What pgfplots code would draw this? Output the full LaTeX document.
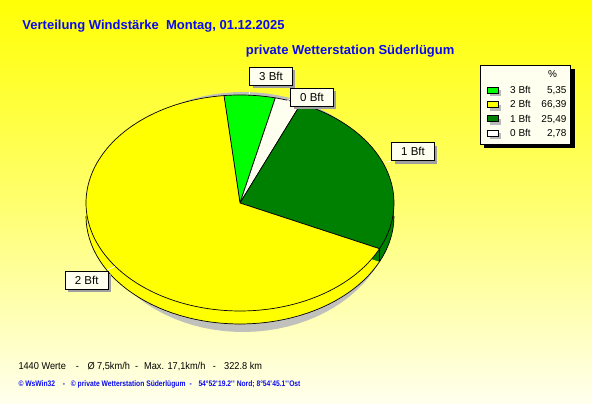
\documentclass[border=0pt]{standalone}
\usepackage{fontspec}
\setmainfont{Liberation Sans}
\newfontfamily\footfont{Liberation Sans}[FakeStretch=0.84]
\newfontfamily\sumfont{Liberation Sans}[FakeStretch=0.92]
\usepackage{pgfplots}
\pgfplotsset{compat=1.18}
\usetikzlibrary{shadows}

\definecolor{bgtop}{RGB}{255,255,5}
\definecolor{bgmid}{RGB}{255,255,110}
\definecolor{bgbot}{RGB}{255,255,238}
\definecolor{cream}{RGB}{255,255,240}
\definecolor{bft3}{RGB}{0,255,0}
\definecolor{bft2}{RGB}{255,255,0}
\definecolor{bft1}{RGB}{0,128,0}
\definecolor{bft0}{RGB}{255,255,240}
\definecolor{titleblue}{RGB}{10,10,240}
\definecolor{pieshadow}{RGB}{192,192,188}

% share of each wind force in percent (order as drawn, clockwise from top)
\newcommand\pctThree{5.35}
\newcommand\pctZero{2.78}
\newcommand\pctOne{25.49}
\newcommand\pctTwo{66.39}

% pie geometry in pixel units (1 unit = 1pt)
\def\cx{240}\def\cy{-203}\def\cyb{-216}\def\rx{154}\def\ry{108}

% slice boundaries, clockwise from 96 degrees
\pgfmathsetmacro\angS{96}
\pgfmathsetmacro\angA{\angS-3.6*\pctThree}
\pgfmathsetmacro\angB{\angA-3.6*\pctZero}
\pgfmathsetmacro\angC{\angB-3.6*\pctOne}
\pgfmathsetmacro\angD{\angC-3.6*\pctTwo}

\begin{document}
\begin{tikzpicture}[
    lbl/.style={draw=black, fill=cream, line width=0.6pt, minimum width=42.5pt,
      minimum height=18pt, inner sep=0pt, font=\fontsize{11.5}{13}\selectfont,
      drop shadow={shadow xshift=3pt, shadow yshift=-3pt, fill=gray!75, opacity=1}},
]
\shade[top color=bgtop, bottom color=bgbot, middle color=bgmid] (0,0) rectangle (592pt,404pt);
\begin{axis}[
    scale only axis,
    width=592pt, height=404pt,
    xmin=0, xmax=592, ymin=-404, ymax=0,
    hide axis, clip=false, no markers,
]
% shadow under the pie
\addplot[fill=pieshadow, draw=none, domain=0:360, samples=90, variable=\t]
  ({243+150*cos(\t)}, {-212+120*sin(\t)}) -- cycle;

% side wall (lower copy of the front slices)
\addplot[fill=bft2, draw=none, domain=\angD:\angC, samples=80, variable=\t]
  ({\cx+\rx*cos(\t)}, {\cyb+\ry*sin(\t)}) -- (\cx,\cyb) -- cycle;
\addplot[fill=bft1, draw=none, domain=\angC:\angB, samples=40, variable=\t]
  ({\cx+\rx*cos(\t)}, {\cyb+\ry*sin(\t)}) -- (\cx,\cyb) -- cycle;
\addplot[black, line width=0.7pt, domain=-180:0, samples=60, variable=\t]
  ({\cx+\rx*cos(\t)}, {\cyb+\ry*sin(\t)});
\addplot[black, line width=0.7pt, domain=0:1, samples=2, variable=\t]
  ({\cx+\rx*cos(\angC)}, {\cy+\ry*sin(\angC)-13*\t});

% top face
\addplot[fill=bft3, draw=black, line width=0.7pt, line join=round, domain=\angA:\angS, samples=20, variable=\t]
  ({\cx+\rx*cos(\t)}, {\cy+\ry*sin(\t)}) -- (\cx,\cy) -- cycle;
\addplot[fill=bft0, draw=black, line width=0.7pt, line join=round, domain=\angB:\angA, samples=12, variable=\t]
  ({\cx+\rx*cos(\t)}, {\cy+\ry*sin(\t)}) -- (\cx,\cy) -- cycle;
\addplot[fill=bft1, draw=black, line width=0.7pt, line join=round, domain=\angC:\angB, samples=50, variable=\t]
  ({\cx+\rx*cos(\t)}, {\cy+\ry*sin(\t)}) -- (\cx,\cy) -- cycle;
\addplot[fill=bft2, draw=black, line width=0.7pt, line join=round, domain=\angD:\angC, samples=120, variable=\t]
  ({\cx+\rx*cos(\t)}, {\cy+\ry*sin(\t)}) -- (\cx,\cy) -- cycle;

% leader lines and slice labels
\draw[white, line width=0.7pt] (249.5,-85) -- (249.5,-94);
\draw[white, line width=0.7pt] (287,-101) -- (291,-99);
\draw[white, line width=0.7pt] (385,-162.3) -- (392,-161);
\draw[white, line width=0.7pt] (107,-270) -- (115,-266.5);
\node[lbl] at (271,-76) {3 Bft};
\node[lbl] at (312,-97.5) {0 Bft};
\node[lbl] at (413,-151.7) {1 Bft};
\node[lbl] at (86.7,-280) {2 Bft};

% legend
\fill[black] (484,-69) rectangle (574.7,-148.3);
\filldraw[fill=cream, draw=black, line width=0.6pt] (480,-65) rectangle (570.7,-144.3);
\node[anchor=base, font=\fontsize{10}{12}\selectfont] at (552.5,-78) {\%};
\fill[gray!55] (490.3,-96) rectangle (501.3,-90);
\fill[gray!55] (490.3,-110.7) rectangle (501.3,-104.7);
\fill[gray!55] (490.3,-124.7) rectangle (501.3,-118.7);
\fill[gray!55] (490.3,-139) rectangle (501.3,-133);
\filldraw[fill=bft3, draw=black, line width=0.6pt] (487.3,-93) rectangle (498.3,-87);
\filldraw[fill=bft2, draw=black, line width=0.6pt] (487.3,-107.7) rectangle (498.3,-101.7);
\filldraw[fill=bft1, draw=black, line width=0.6pt] (487.3,-121.7) rectangle (498.3,-115.7);
\filldraw[fill=white, draw=black, line width=0.6pt] (487.3,-136) rectangle (498.3,-130);
\begin{scope}[every node/.style={font=\fontsize{10}{12}\selectfont, inner sep=0pt}]
\node[anchor=base west] at (510,-93.3) {3 Bft};
\node[anchor=base east] at (566.7,-93.3) {5,35};
\node[anchor=base west] at (510,-108) {2 Bft};
\node[anchor=base east] at (566.7,-108) {66,39};
\node[anchor=base west] at (510,-122.3) {1 Bft};
\node[anchor=base east] at (566.7,-122.3) {25,49};
\node[anchor=base west] at (510,-136.7) {0 Bft};
\node[anchor=base east] at (566.7,-136.7) {2,78};
\end{scope}

% titles
\node[anchor=base west, inner sep=0pt, text=titleblue, font=\fontsize{13}{15}\selectfont\bfseries]
  at (22.3,-29.3) {Verteilung Windstärke\ \ Montag, 01.12.2025};
\node[anchor=base west, inner sep=0pt, text=titleblue, font=\fontsize{13}{15}\selectfont\bfseries]
  at (245.7,-54.3) {private Wetterstation Süderlügum};

% summary line
\begin{scope}[every node/.style={font=\sumfont\fontsize{10}{12}\selectfont, inner sep=0pt}]
\node[anchor=base west] at (18.3,-370) {1440 Werte};
\node[anchor=base] at (77.3,-370) {-};
\node[anchor=base west] at (87.3,-370) {Ø 7,5km/h};
\node[anchor=base] at (136.7,-370) {-};
\node[anchor=base west] at (144,-370) {Max. 17,1km/h};
\node[anchor=base] at (214.3,-370) {-};
\node[anchor=base west] at (224,-370) {322.8 km};
\end{scope}

% footer
\begin{scope}[every node/.style={font=\footfont\bfseries\fontsize{8}{9}\selectfont, text=titleblue, inner sep=0pt}]
\node[anchor=base west] at (18.3,-386.3) {© WsWin32};
\node[anchor=base] at (64,-386.3) {-};
\node[anchor=base west] at (70.7,-386.3) {© private Wetterstation Süderlügum};
\node[anchor=base] at (190.7,-386.3) {-};
\node[anchor=base west] at (198.3,-386.3) {54°52\textquotesingle 19.2\textquotesingle\textquotesingle\ Nord; 8°54\textquotesingle 45.1\textquotesingle\textquotesingle Ost};
\end{scope}
\end{axis}
\pgfresetboundingbox
\path[use as bounding box] (0,0) rectangle (592pt,404pt);
\end{tikzpicture}
\end{document}
